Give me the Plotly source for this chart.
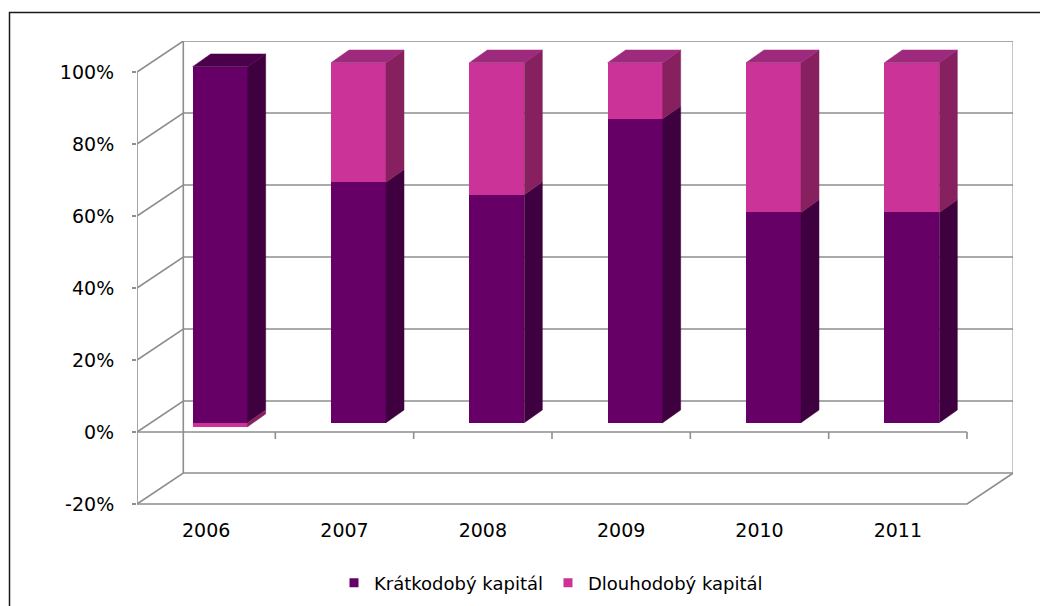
import plotly.graph_objects as go

# ---------------- data ----------------
years = ["2006", "2007", "2008", "2009", "2010", "2011"]
kratkodoby = [98.9, 66.8, 63.3, 84.4, 58.4, 58.4]
dlouhodoby = [-1.1, 33.2, 36.7, 15.6, 41.6, 41.6]
series_names = ["Krátkodobý kapitál", "Dlouhodobý kapitál"]
y_ticks = [-20, 0, 20, 40, 60, 80, 100]
y_tick_labels = ["-20%", "0%", "20%", "40%", "60%", "80%", "100%"]

# ---------------- style / geometry ----------------
front_col = ["#660066", "#CC3399"]
side_col = ["#3F003F", "#87205F"]
top_col = ["#4B004B", "#9E2A7D"]
grid_col = "#8E8E8E"
FONT = "DejaVu Sans"

W, H = 1040, 606
PL, PR, PT, PB = 137, 1013, 41, 505      # plot-area pixel box
CAT_PX = (967 - 137) / 6                  # pixels per category (front plane)
PCT_PX = 3.6                              # pixels per percent
ZERO_PX = 432                             # front-plane 0 % pixel row

x_range = [-0.5, -0.5 + (PR - PL) / CAT_PX]
y_range = [-(PB - ZERO_PX) / PCT_PX, (ZERO_PX - PT) / PCT_PX]

WX, WY = 46.3 / CAT_PX, 31 / PCT_PX       # back-wall depth offset
BX, BY = 14 / CAT_PX, 9.3 / PCT_PX        # bar front-face depth offset
DX, DY = 18 / CAT_PX, 12.7 / PCT_PX       # bar depth
BW = 55 / CAT_PX                          # bar width
TICK = 7 / PCT_PX

n = len(years)
series = [kratkodoby, dlouhodoby]

# stacking
segments = []  # (series, cat, lo, hi)
pos = [BY] * n
neg = [BY] * n
bases = [[0] * n for _ in series]
for s, vals in enumerate(series):
    for i, v in enumerate(vals):
        if v >= 0:
            lo, hi = pos[i], pos[i] + v
            pos[i] = hi
        else:
            lo, hi = neg[i], neg[i] + v
            neg[i] = hi
        bases[s][i] = lo
        segments.append((s, i, lo, hi))

fig = go.Figure()

# front faces
for s, vals in enumerate(series):
    fig.add_trace(go.Bar(
        x=[i + BX for i in range(n)], y=vals, base=bases[s], width=BW,
        marker=dict(color=front_col[s], line=dict(width=0)),
        name=series_names[s], showlegend=False, hoverinfo="skip"))

# side faces
for s in range(len(series)):
    xs, ys = [], []
    for (ss, i, lo, hi) in segments:
        if ss != s:
            continue
        xr = i + BX + BW / 2
        xs += [xr, xr + DX, xr + DX, xr, xr, None]
        ys += [lo, lo + DY, hi + DY, hi, lo, None]
    fig.add_trace(go.Scatter(x=xs, y=ys, mode="lines", fill="toself",
                             fillcolor=side_col[s], line=dict(width=0.5, color=side_col[s]),
                             showlegend=False, hoverinfo="skip"))

# top faces
for s in range(len(series)):
    xs, ys = [], []
    for i in range(n):
        top_seg = max((seg for seg in segments if seg[1] == i), key=lambda t: t[3])
        if top_seg[0] != s:
            continue
        top = top_seg[3]
        xl, xr = i + BX - BW / 2, i + BX + BW / 2
        xs += [xl, xl + DX, xr + DX, xr, xl, None]
        ys += [top, top + DY, top + DY, top, top, None]
    if xs:
        fig.add_trace(go.Scatter(x=xs, y=ys, mode="lines", fill="toself",
                                 fillcolor=top_col[s], line=dict(width=0.5, color=top_col[s]),
                                 showlegend=False, hoverinfo="skip"))

# legend entries
for s in range(len(series)):
    fig.add_trace(go.Scatter(x=[None], y=[None], mode="markers",
                             marker=dict(symbol="square", size=9, color=front_col[s]),
                             name=series_names[s]))

# walls / grid as shapes beneath data
shapes = []
def line_path(pts):
    return "M " + " L ".join(f"{x},{y}" for x, y in pts)

xl0, xr0 = -0.5, n - 0.5
for v in y_ticks:
    shapes.append(dict(type="path", xref="x", yref="y", layer="below",
                       path=line_path([(xl0, v), (xl0 + WX, v + WY), (xr0 + WX, v + WY)]),
                       line=dict(color=grid_col, width=1.6)))
ymin, ymax = y_ticks[0], y_ticks[-1]
for pts in [
    [(xl0 + WX, ymin + WY), (xl0 + WX, ymax + WY)],
    [(xr0 + WX, ymin + WY), (xr0 + WX, ymax + WY)],
    [(xl0, ymin), (xl0, ymax)],
    [(xl0, ymin), (xr0, ymin), (xr0 + WX, ymin + WY)],
    [(xl0, 0), (xr0, 0)],
]:
    shapes.append(dict(type="path", xref="x", yref="y", layer="below",
                       path=line_path(pts), line=dict(color=grid_col, width=1.6)))
for k in range(1, n + 1):
    shapes.append(dict(type="line", xref="x", yref="y", layer="below",
                       x0=k - 0.5, x1=k - 0.5, y0=0, y1=-TICK,
                       line=dict(color=grid_col, width=1.6)))

# outer chart border
pw, ph = PR - PL, PB - PT
shapes.append(dict(type="rect", xref="paper", yref="paper",
                   x0=(9.5 - PL) / pw, x1=(1050 - PL) / pw,
                   y0=(PB - 620) / ph, y1=(PB - 12.5) / ph,
                   line=dict(color="#1a1a1a", width=1.5), fillcolor="rgba(0,0,0,0)"))

fig.update_layout(
    width=W, height=H,
    margin=dict(l=PL, r=W - PR, t=PT, b=H - PB, pad=0, autoexpand=False),
    paper_bgcolor="white", plot_bgcolor="rgba(0,0,0,0)",
    barmode="overlay", bargap=0,
    shapes=shapes,
    font=dict(family=FONT, size=19, color="#000000"),
    showlegend=True,
    legend=dict(orientation="h", x=(551 - PL) / pw, xanchor="center",
                y=(PB - 583) / ph, yanchor="middle",
                font=dict(family=FONT, size=18, color="#000000"),
                bgcolor="rgba(0,0,0,0)", itemwidth=30),
    xaxis=dict(range=x_range, tickvals=list(range(n)), ticktext=years,
               showgrid=False, zeroline=False, showline=False, ticks="",
               ticklabelstandoff=12, fixedrange=True),
    yaxis=dict(range=y_range, tickvals=y_ticks, ticktext=y_tick_labels,
               showgrid=False, zeroline=False, showline=False,
               ticks="outside", ticklen=4, tickcolor=grid_col, tickwidth=1.6,
               ticklabelstandoff=14, fixedrange=True),
)

fig.write_html("out.html")
